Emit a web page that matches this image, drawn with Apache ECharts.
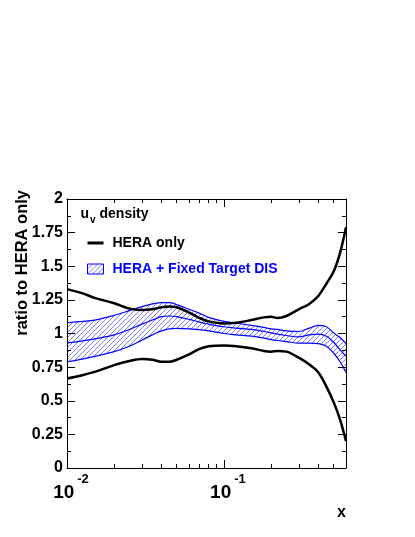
<!DOCTYPE html>
<html><head><meta charset="utf-8">
<script src="https://cdn.jsdelivr.net/npm/echarts@6/dist/echarts.min.js"></script>
<style>html,body{margin:0;padding:0;background:#fff}#c{width:415px;height:537px}</style>
</head><body><div id="c"></div>
<script>
// x values (log scale)
const xs = [0.01,0.0125,0.015,0.02,0.025,0.03,0.035,0.04,0.045,0.05,0.06,0.07,0.08,0.1,0.12,0.15,0.18,0.2,0.22,0.25,0.3,0.35,0.4,0.45,0.5,0.55,0.6];
// HERA only: upper / lower envelope (ratio)
const heraUpper = [1.33,1.30,1.265,1.225,1.185,1.175,1.18,1.195,1.20,1.195,1.155,1.115,1.09,1.075,1.08,1.10,1.12,1.125,1.115,1.13,1.18,1.22,1.28,1.37,1.46,1.60,1.79];
const heraLower = [0.665,0.69,0.715,0.765,0.795,0.81,0.805,0.79,0.79,0.805,0.845,0.885,0.905,0.91,0.905,0.89,0.87,0.865,0.87,0.865,0.82,0.77,0.71,0.605,0.49,0.36,0.20];
// HERA + Fixed Target DIS band
const bandUpper = [1.08,1.09,1.10,1.135,1.17,1.20,1.22,1.23,1.23,1.215,1.18,1.15,1.12,1.09,1.077,1.06,1.045,1.035,1.03,1.02,1.015,1.04,1.06,1.05,1.005,0.97,0.925];
const bandCentral = [0.93,0.945,0.96,0.99,1.03,1.07,1.10,1.125,1.13,1.125,1.105,1.085,1.07,1.05,1.04,1.03,1.015,1.005,0.995,0.985,0.975,0.99,0.995,0.98,0.935,0.88,0.83];
const bandLower = [0.79,0.81,0.83,0.865,0.905,0.95,0.99,1.02,1.035,1.038,1.035,1.028,1.02,1.00,0.99,0.98,0.965,0.955,0.948,0.94,0.928,0.928,0.925,0.905,0.855,0.79,0.71];
// ticks
const xMajorTicks = [0.01,0.1];
const xMinorTicks = [0.02,0.03,0.04,0.05,0.06,0.07,0.08,0.09,0.2,0.3,0.4,0.5];
const yTickLabels = ['0','0.25','0.5','0.75','1','1.25','1.5','1.75','2'];

const FONT = 'Liberation Sans';
const BLUE = '#0000ff';

function hatch(){
  const s = 5, c = document.createElement('canvas');
  c.width = s; c.height = s;
  const g = c.getContext('2d');
  g.strokeStyle = '#7c7cff'; g.lineWidth = 1;
  g.beginPath();
  g.moveTo(0, s); g.lineTo(s, 0);
  g.moveTo(-1, 1); g.lineTo(1, -1);
  g.moveTo(s-1, s+1); g.lineTo(s+1, s-1);
  g.stroke();
  return c;
}
const pattern = {image: hatch(), repeat: 'repeat'};

const pts = arr => xs.map((x,i) => [x, arr[i]]);

const chart = echarts.init(document.getElementById('c'), null, {renderer:'canvas'});
const xCommon = {type:'log', logBase:10, min:0.01, max:0.6, gridIndex:0, splitLine:{show:false}, z:10};
const SM = 0.35;
chart.setOption({
  animation:false,
  grid:{left:67, right:69, top:199, bottom:69, containLabel:false},
  legend:{
    orient:'vertical', left:82, top:231, itemWidth:16, itemHeight:10, itemGap:12,
    textStyle:{fontFamily:FONT, fontWeight:'bold', fontSize:14, color:'#000', padding:[0,0,0,4]},
    data:[
      {name:'HERA only', icon:'path://M0,0L16,0L16,3L0,3Z', itemStyle:{color:'#000'}},
      {name:'HERA + Fixed Target DIS', icon:'rect', itemStyle:{color:pattern, borderColor:BLUE, borderWidth:1}, textStyle:{color:BLUE}}
    ]
  },
  xAxis:[
    Object.assign({}, xCommon, {position:'bottom',
      axisLine:{show:true, lineStyle:{color:'#000', width:1}},
      axisTick:{show:true, inside:true, length:8, lineStyle:{color:'#000'}, customValues:xMajorTicks},
      axisLabel:{show:true, margin:5, customValues:xMajorTicks,
        formatter: v => '{b|10}{s|' + Math.round(Math.log10(v)) + '}',
        rich:{b:{fontFamily:FONT, fontWeight:'bold', fontSize:19, color:'#000', verticalAlign:'bottom', lineHeight:29, padding:[0,0,0,8]},
              s:{fontFamily:FONT, fontWeight:'bold', fontSize:13, color:'#000', verticalAlign:'top', lineHeight:29, padding:[0,0,0,3]}}},
      name:'x', nameLocation:'end', nameGap:0,
      nameTextStyle:{fontFamily:FONT, fontWeight:'bold', fontSize:16, color:'#000', align:'right', verticalAlign:'top', padding:[37,0,0,0]}
    }),
    Object.assign({}, xCommon, {position:'bottom',
      axisLine:{show:false}, axisLabel:{show:false},
      axisTick:{show:true, inside:true, length:4, lineStyle:{color:'#000'}, customValues:xMinorTicks}}),
    Object.assign({}, xCommon, {position:'top',
      axisLine:{show:true, lineStyle:{color:'#000', width:1}}, axisLabel:{show:false},
      axisTick:{show:true, inside:true, length:8, lineStyle:{color:'#000'}, customValues:xMajorTicks}}),
    Object.assign({}, xCommon, {position:'top',
      axisLine:{show:false}, axisLabel:{show:false},
      axisTick:{show:true, inside:true, length:4, lineStyle:{color:'#000'}, customValues:xMinorTicks}})
  ],
  yAxis:[
    {type:'value', min:0, max:2, interval:0.25, position:'left', splitLine:{show:false}, z:10,
      axisLine:{show:true, lineStyle:{color:'#000', width:1}},
      axisTick:{show:true, inside:true, length:8, lineStyle:{color:'#000'}},
      minorTick:{show:true, splitNumber:2, length:4, lineStyle:{color:'#000'}},
      axisLabel:{margin:4, fontFamily:FONT, fontWeight:'bold', fontSize:16, color:'#000',
        formatter:(v) => yTickLabels[Math.round(v/0.25)]}},
    {type:'value', min:0, max:2, interval:0.25, position:'right', splitLine:{show:false}, z:10,
      axisLine:{show:true, lineStyle:{color:'#000', width:1}},
      axisTick:{show:true, inside:true, length:8, lineStyle:{color:'#000'}},
      minorTick:{show:true, splitNumber:2, length:4, lineStyle:{color:'#000'}},
      axisLabel:{show:false}}
  ],
  graphic:[
    {type:'text', left:80.5, top:207, style:{
      text:'{a|u}{b|v}{a| density}',
      rich:{a:{fontFamily:FONT, fontWeight:'bold', fontSize:14, fill:'#000', verticalAlign:'bottom', lineHeight:16},
            b:{fontFamily:FONT, fontWeight:'bold', fontSize:10, fill:'#000', verticalAlign:'bottom', lineHeight:12, padding:[0,0,-4,1]}}}},
    {type:'text', left:81.5, top:410, style:{text:'Q = 100 GeV', fontFamily:FONT, fontWeight:'bold', fontSize:14, fill:'#000'}},
    {type:'text', left:81.5, top:436, style:{text:'NNLO NNPDF2.1 sets', fontFamily:FONT, fontWeight:'bold', fontSize:14, fill:'#000'}},
    {type:'text', x:22, y:190, rotation:Math.PI/2, style:{text:'ratio to HERA only', fontFamily:FONT, fontWeight:'bold', fontSize:16.5, fill:'#000', textAlign:'right', textVerticalAlign:'middle'}}
  ],
  series:[
    // hatched fill up to band upper edge, then masked in white below band lower edge
    {name:'HERA + Fixed Target DIS', type:'line', data:pts(bandUpper), symbol:'none', smooth:SM, lineStyle:{width:0, opacity:0}, areaStyle:{color:pattern, opacity:1, origin:'start'}, itemStyle:{color:BLUE}, z:1},
    {name:'bandMask', type:'line', data:pts(bandLower), symbol:'none', smooth:SM, lineStyle:{width:0, opacity:0}, areaStyle:{color:'#fff', opacity:1, origin:'start'}, silent:true, z:1},
    {name:'bandUpper', type:'line', data:pts(bandUpper), symbol:'none', smooth:SM, lineStyle:{color:BLUE, width:1.2}, z:3},
    {name:'bandCentral', type:'line', data:pts(bandCentral), symbol:'none', smooth:SM, lineStyle:{color:BLUE, width:1.2}, z:3},
    {name:'bandLower', type:'line', data:pts(bandLower), symbol:'none', smooth:SM, lineStyle:{color:BLUE, width:1.2}, z:3},
    {name:'HERA only', type:'line', data:pts(heraUpper), symbol:'none', smooth:SM, lineStyle:{color:'#000', width:2.5}, itemStyle:{color:'#000'}, z:4},
    {name:'HERA only', type:'line', data:pts(heraLower), symbol:'none', smooth:SM, lineStyle:{color:'#000', width:2.5}, itemStyle:{color:'#000'}, z:4}
  ]
});
</script></body></html>
